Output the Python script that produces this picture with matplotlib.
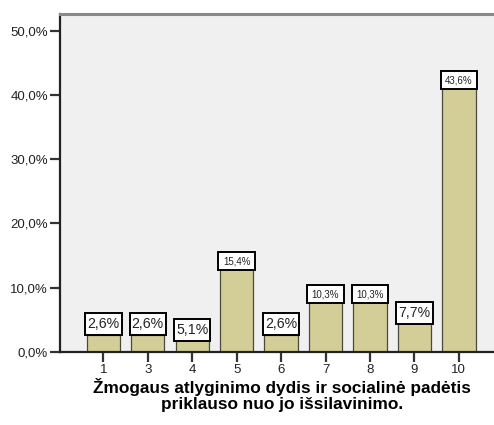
import matplotlib
matplotlib.use("Agg")
from matplotlib import pyplot as plt
from matplotlib.patches import Rectangle

plt.rcParams['font.family'] = ['Liberation Sans', 'DejaVu Sans']

categories = ["1", "3", "4", "5", "6", "7", "8", "9", "10"]
percents = [2.6, 2.6, 5.1, 15.4, 2.6, 10.3, 10.3, 7.7, 43.6]
labels = ["2,6%", "2,6%", "5,1%", "15,4%", "2,6%", "10,3%", "10,3%", "7,7%", "43,6%"]
small_font = [False, False, False, True, False, True, True, False, True]
yticks = [0, 10, 20, 30, 40, 50]
ytick_labels = ["0,0%", "10,0%", "20,0%", "30,0%", "40,0%", "50,0%"]
title_lines = ["Žmogaus atlyginimo dydis ir socialinė padėtis",
               "priklauso nuo jo išsilavinimo."]

fig = plt.figure(figsize=(4.94, 4.25), dpi=100)
ax = fig.add_axes([60/494, 73/425, 434/494, 338/425])
ax.set_facecolor("#F0F0F0")

x = range(len(categories))
ax.bar(x, percents, width=0.75, color="#D3CE98", edgecolor="#4a4a3a", linewidth=0.9, zorder=2)

# label boxes, SPSS style
for i, v in enumerate(percents):
    h = 2.8 if small_font[i] else 3.45
    top = v + 0.1 if v > h + 1 else v + h
    ax.add_patch(Rectangle((i - 0.41, top - h), 0.82, h, facecolor="white",
                           edgecolor="black", linewidth=1.4, zorder=3))
    fs = 7 if small_font[i] else 10.2
    ax.text(i, top - h / 2, labels[i], ha="center", va="center",
            fontsize=fs, color="#222222", zorder=4)

ax.set_xlim(-0.974, 8.79)
ax.set_ylim(0, 52.6)
ax.set_xticks(list(x))
ax.set_xticklabels(categories, fontsize=9.5, color="#222222")
ax.set_yticks(yticks)
ax.set_yticklabels(ytick_labels, fontsize=9.5, color="#222222")
ax.tick_params(axis="both", length=7, width=1.6, color="#333333", pad=1.5)

ax.spines["left"].set_color("#222222")
ax.spines["left"].set_linewidth(1.6)
ax.spines["bottom"].set_color("#222222")
ax.spines["bottom"].set_linewidth(1.6)
ax.spines["top"].set_color("#8a8a8a")
ax.spines["top"].set_linewidth(2.2)
ax.spines["right"].set_visible(False)

for k, line in enumerate(title_lines):
    fig.text(282/494, 1 - (387.5 + 17.5*k)/425, line, ha="center", va="center",
             fontsize=12.4, fontweight="bold", color="black")

fig.savefig("out.png", dpi=100, facecolor="white")
